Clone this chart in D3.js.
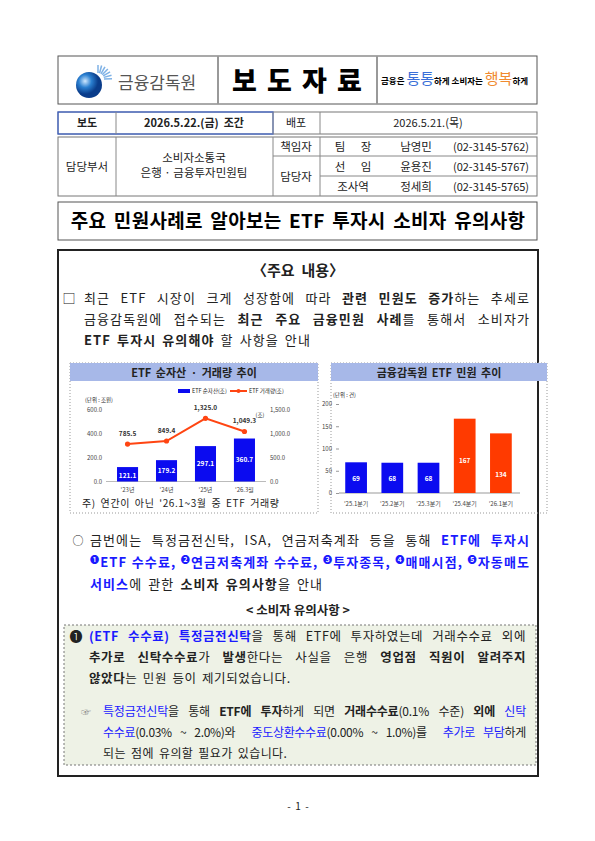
<!DOCTYPE html>
<html><head><meta charset="utf-8">
<script src="https://cdn.jsdelivr.net/npm/d3@7"></script>
<style>body{margin:0;background:#fff}text{font-family:"Noto Sans CJK KR","Noto Sans",sans-serif;white-space:pre}</style>
</head><body><svg id="s" width="595" height="841"></svg>
<script>
// ---- data ----
const etfYears = ["'23년", "'24년", "'25년", "'26.3월"];
const etfNetAssets = [121.1, 179.2, 297.1, 360.7];
const etfVolume = [785.5, 849.4, 1325.0, 1049.3];
const leftTicks = [0, 200, 400, 600];
const rightTicks = [0, 500, 1000, 1500];
const complaintQuarters = ["'25.1분기", "'25.2분기", "'25.3분기", "'25.4분기", "'26.1분기"];
const complaintCounts = [69, 68, 68, 167, 134];
const complaintTicks = [0, 50, 100, 150, 200];

const svg = d3.select("#s");
const BLUE = "#1a1aff", K = "#222";

// ---- header ----
svg.append("rect").attr("x",58).attr("y",56).attr("width",479).attr("height",48).attr("fill","none").attr("stroke","#555").attr("stroke-width",1);
[218,377].forEach(x=>svg.append("line").attr("x1",x).attr("x2",x).attr("y1",56).attr("y2",104).attr("stroke","#999").attr("stroke-width",2));
const gr = svg.append("defs").append("radialGradient").attr("id","g").attr("cx","35%").attr("cy","35%");
gr.append("stop").attr("offset","0").attr("stop-color","#cfe8ff");
gr.append("stop").attr("offset","0.5").attr("stop-color","#2a7fd0");
gr.append("stop").attr("offset","1").attr("stop-color","#0a3c8a");
svg.append("circle").attr("cx",89).attr("cy",85).attr("r",13).attr("fill","url(#g)");
for(let i=0;i<7;i++){const a=-Math.PI/2+ i*0.26;svg.append("line").attr("x1",98+Math.cos(a)*6).attr("y1",79+Math.sin(a)*6).attr("x2",98+Math.cos(a)*14).attr("y2",79+Math.sin(a)*14).attr("stroke","#7fb2e6").attr("stroke-width",1.5);}
svg.append("text").attr("x",118).attr("y",89).attr("font-size",17).attr("fill","#555").text("금융감독원");
svg.append("text").attr("x",298).attr("y",91).attr("text-anchor","middle").attr("font-size",27).attr("font-weight",900).attr("letter-spacing",2).attr("fill","#000").text("보 도 자 료");
const sl = svg.append("text").attr("x",381).attr("y",84).attr("font-size",8.5).attr("font-weight",700);
sl.append("tspan").text("금융은 ");
sl.append("tspan").attr("font-size",15).attr("fill","#3a6fd8").attr("font-weight",400).text("통통");
sl.append("tspan").text("하게 소비자는 ");
sl.append("tspan").attr("font-size",15).attr("fill","#f08a30").attr("font-weight",400).text("행복");
sl.append("tspan").text("하게");

// ---- info table ----
const tl = (x1,y1,x2,y2,c="#888",w=1)=>svg.append("line").attr("x1",x1).attr("y1",y1).attr("x2",x2).attr("y2",y2).attr("stroke",c).attr("stroke-width",w);
const tt = (x,y,t,o={})=>svg.append("text").attr("x",x).attr("y",y).attr("text-anchor",o.a||"middle").attr("font-size",o.s||11).attr("font-weight",o.w||400).attr("fill",o.c||K).text(t);
svg.append("rect").attr("x",58).attr("y",112).attr("width",479).attr("height",22).attr("fill","none").attr("stroke","#777");
svg.append("rect").attr("x",58).attr("y",112).attr("width",215).attr("height",22).attr("fill","none").attr("stroke","#3a5fc8").attr("stroke-width",1.2);
tl(116,112,116,134);tl(273,112,273,134);tl(320,112,320,134);
tt(87,127,"보도",{w:700});tt(194,127,"2026.5.22.(금)  조간",{w:700});tt(296,127,"배포");tt(428,127,"2026.5.21.(목)");
svg.append("rect").attr("x",58).attr("y",137).attr("width",479).attr("height",59).attr("fill","none").attr("stroke","#777");
tl(116,137,116,196);tl(273,137,273,196);tl(320,137,320,196);tl(273,156,537,156);tl(320,176,537,176);
tt(87,171,"담당부서",{s:11.5});tt(194,162,"소비자소통국",{s:11.5});tt(194,177,"은행 · 금융투자민원팀",{s:11.5});
tt(296,151,"책임자",{s:11.5});tt(296,181,"담당자",{s:11.5});
const staff=[["팀","장","남영민","(02-3145-5762)"],["선","임","윤용진","(02-3145-5767)"],["조사역","","정세희","(02-3145-5765)"]];
staff.forEach((r,i)=>{const y=151+i*20;if(r[1]){tt(340,y,r[0],{s:11.5});tt(366,y,r[1],{s:11.5});}else tt(353,y,r[0],{s:11.5});tt(416,y,r[2],{s:11.5});tt(491,y,r[3],{s:11});});

// ---- title ----
svg.append("rect").attr("x",58).attr("y",202).attr("width",479).attr("height",38).attr("fill","none").attr("stroke","#555");
tt(298,228,"주요 민원사례로 알아보는 ETF 투자시 소비자 유의사항",{s:19,w:700,c:"#000"}).attr("word-spacing",3).attr("letter-spacing",0.3);

// ---- main box ----
svg.append("rect").attr("x",58).attr("y",250).attr("width",480).attr("height",526).attr("fill","none").attr("stroke","#222").attr("stroke-width",2);
tt(298,276,"〈주요  내용〉",{s:15,w:700});

function rich(x,y,segs,len,size=13,ls=1.1){
  const t=svg.append("text").attr("x",x).attr("y",y).attr("font-size",size).attr("fill",K).attr("letter-spacing",ls).attr("word-spacing",2);
  segs.forEach(s=>{const f=s[1]||"";const sp=t.append("tspan").text(s[0]);if(f.includes("b"))sp.attr("font-weight",700);if(f.includes("u"))sp.attr("fill",BLUE);if(f.includes("x"))sp.attr("font-size",size*0.7).attr("dy",-4);if(f.includes("y"))sp.attr("dy",4);});
  if(len){
    const w=t.node().getComputedTextLength();
    const n=segs.map(s=>s[0]).join("").split(" ").length-1;
    if(n>0) t.attr("word-spacing",2+(len-w)/n);
  }
  return t;
}
tt(69,303,"□",{s:13});
rich(84,303,[["최근 ETF 시장이 크게 성장함에 따라 "],["관련 민원도 증가","b"],["하는 추세로"]],446);
rich(84,324,[["금융감독원에 접수되는 "],["최근 주요 금융민원 사례","b"],["를 통해서 소비자가"]],446);
rich(84,345,[["ETF 투자시 유의해야","b"],[" 할 사항을 안내"]]);

// ---- chart panels ----
function panel(x,w,title){
  svg.append("rect").attr("x",x).attr("y",363).attr("width",w).attr("height",150).attr("fill","none").attr("stroke","#999").attr("stroke-dasharray","1,2");
  svg.append("rect").attr("x",x).attr("y",363).attr("width",w).attr("height",18).attr("fill","#a7b8e8");
  tt(x+w/2,377,title,{s:11,w:700}).attr("word-spacing",2);
}
panel(70,248,"ETF 순자산 · 거래량 추이");
panel(331,216,"금융감독원 ETF 민원 추이");

// left chart
const xL=d3.scaleBand().domain(etfYears).range([106.5,265.5]).paddingInner(0.46).paddingOuter(0.27);
const yL=d3.scaleLinear().domain([0,600]).range([481.5,410]);
const yR=d3.scaleLinear().domain([0,1500]).range([481.5,410]);
const axL=svg.append("g").attr("transform","translate(104,0)").call(d3.axisLeft(yL).tickValues(leftTicks).tickFormat(d3.format(".1f")).tickSize(0).tickPadding(2));
const axR=svg.append("g").attr("transform","translate(268,0)").call(d3.axisRight(yR).tickValues(rightTicks).tickFormat(d=>d3.format(",.1f")(d)).tickSize(0).tickPadding(2));
[axL,axR].forEach(a=>{a.select(".domain").remove();a.selectAll("text").attr("font-size",6).attr("fill","#444");});
svg.append("line").attr("x1",106).attr("x2",266).attr("y1",481.5).attr("y2",481.5).attr("stroke","#bbb");
svg.selectAll(".bl").data(etfNetAssets).join("rect").attr("x",(d,i)=>xL(etfYears[i])).attr("width",xL.bandwidth()).attr("y",d=>yL(d)).attr("height",d=>yL(0)-yL(d)).attr("fill","#0b0bf0");
svg.selectAll(".blt").data(etfNetAssets).join("text").attr("x",(d,i)=>xL(etfYears[i])+xL.bandwidth()/2).attr("y",d=>(yL(d)+yL(0))/2+2+ (d<150?2:0)).attr("text-anchor","middle").attr("font-size",6.5).attr("font-weight",700).attr("fill","#fff").text(d=>d.toFixed(1));
const lx=(d,i)=>xL(etfYears[i])+xL.bandwidth()/2;
svg.append("path").datum(etfVolume).attr("d",d3.line().x(lx).y(d=>yR(d))).attr("fill","none").attr("stroke","#ff4512").attr("stroke-width",2);
svg.selectAll(".pt").data(etfVolume).join("circle").attr("cx",lx).attr("cy",d=>yR(d)).attr("r",2.6).attr("fill","#ff4512");
svg.selectAll(".ptl").data(etfVolume).join("text").attr("x",lx).attr("y",d=>yR(d)-8).attr("text-anchor","middle").attr("font-size",6.5).attr("font-weight",700).attr("fill","#333").text(d=>d3.format(",.1f")(d));
svg.selectAll(".xl").data(etfYears).join("text").attr("x",d=>xL(d)+xL.bandwidth()/2).attr("y",492).attr("text-anchor","middle").attr("font-size",6).attr("fill","#444").text(d=>d);
tt(85,402,"(단위 : 조원)",{s:5.5,a:"start"});
svg.append("rect").attr("x",178).attr("y",389).attr("width",12).attr("height",4).attr("fill","#0b0bf0");
tt(192,393,"ETF 순자산(조)",{s:5.5,a:"start"});
svg.append("line").attr("x1",230).attr("x2",247).attr("y1",391).attr("y2",391).attr("stroke","#ff4512").attr("stroke-width",2);
svg.append("circle").attr("cx",238.5).attr("cy",391).attr("r",2).attr("fill","#ff4512");
tt(249,393,"ETF 거래량(조)",{s:5.5,a:"start"});
tt(260,417,"(조)",{s:5.5});
tt(82,507,"주) 연간이 아닌 '26.1~3월 중 ETF 거래량",{s:10,a:"start"}).attr("letter-spacing",0.6).attr("word-spacing",2);

// right chart
const xC=d3.scaleBand().domain(complaintQuarters).range([338,519]).paddingInner(0.4).paddingOuter(0.2);
const yC=d3.scaleLinear().domain([0,200]).range([493,404]);
const axC=svg.append("g").attr("transform","translate(339,0)").call(d3.axisLeft(yC).tickValues(complaintTicks).tickSize(3).tickPadding(4));
axC.select(".domain").remove();axC.selectAll("line").attr("stroke","#999");axC.selectAll("text").attr("font-size",6).attr("fill","#444");
svg.append("line").attr("x1",339).attr("x2",520).attr("y1",493).attr("y2",493).attr("stroke","#999");
svg.selectAll(".bc").data(complaintCounts).join("rect").attr("x",(d,i)=>xC(complaintQuarters[i])).attr("width",xC.bandwidth()).attr("y",d=>yC(d)).attr("height",d=>yC(0)-yC(d)).attr("fill",(d,i)=>i<3?"#0b0bf0":"#ff3a00");
svg.selectAll(".bct").data(complaintCounts).join("text").attr("x",(d,i)=>xC(complaintQuarters[i])+xC.bandwidth()/2).attr("y",(d,i)=>i<3?yC(0)-12:yC(d)+44).attr("text-anchor","middle").attr("font-size",6.5).attr("font-weight",700).attr("fill","#fff").text(d=>d);
svg.selectAll(".xc").data(complaintQuarters).join("text").attr("x",d=>xC(d)+xC.bandwidth()/2).attr("y",506).attr("text-anchor","middle").attr("font-size",6).attr("fill","#444").text(d=>d);
tt(333,397,"(단위 : 건)",{s:5.5,a:"start"});

// ---- second section ----
tt(78,545,"○",{s:11});
rich(90,545,[["금번에는 특정금전신탁, ISA, 연금저축계좌 등을 통해 "],["ETF에 투자시","bu"]],440);
rich(90,567,[["❶","bux"],["ETF 수수료, ","buy"],["❷","bux"],["연금저축계좌 수수료, ","buy"],["❸","bux"],["투자종목, ","buy"],["❹","bux"],["매매시점, ","buy"],["❺","bux"],["자동매도","buy"]],440);
rich(90,589,[["서비스","bu"],["에 관한 "],["소비자 유의사항","b"],["을 안내"]]);
tt(298,615,"< 소비자 유의사항 >",{s:12.5,w:700});

svg.append("rect").attr("x",64).attr("y",625).attr("width",472).attr("height",140).attr("fill","#eef2e6").attr("stroke","#777").attr("stroke-dasharray","2,2");
tt(76,641,"❶",{s:13});
rich(89,641,[["(ETF 수수료) 특정금전신탁","bu"],["을 통해 ETF에 투자하였는데 거래수수료 외에"]],437,12.5,0.6);
rich(89,662,[["추가로 신탁수수료","b"],["가 "],["발생","b"],["한다는 사실을 은행 "],["영업점 직원이 알려주지","b"]],437,12.5,0.6);
rich(89,683,[["않았다","b"],["는 민원 등이 제기되었습니다."]],null,12.5,0.6);
tt(86,716,"☞",{s:10,c:"#888"});
rich(103,716,[["특정금전신탁","u"],["을 통해 "],["ETF에 투자","b"],["하게 되면 "],["거래수수료","b"],["(0.1% 수준) "],["외에 ","b"],["신탁","u"]],423,12,-0.2);
rich(103,737,[["수수료","u"],["(0.03% ~ 2.0%)와  "],["중도상환수수료","u"],["(0.00% ~ 1.0%)를  "],["추가로 부담","u"],["하게"]],423,12,-0.3);
rich(103,758,[["되는 점에 유의할 필요가 있습니다."]],null,12,0.4);

tt(298,810,"-  1  -",{s:10});
</script></body></html>
